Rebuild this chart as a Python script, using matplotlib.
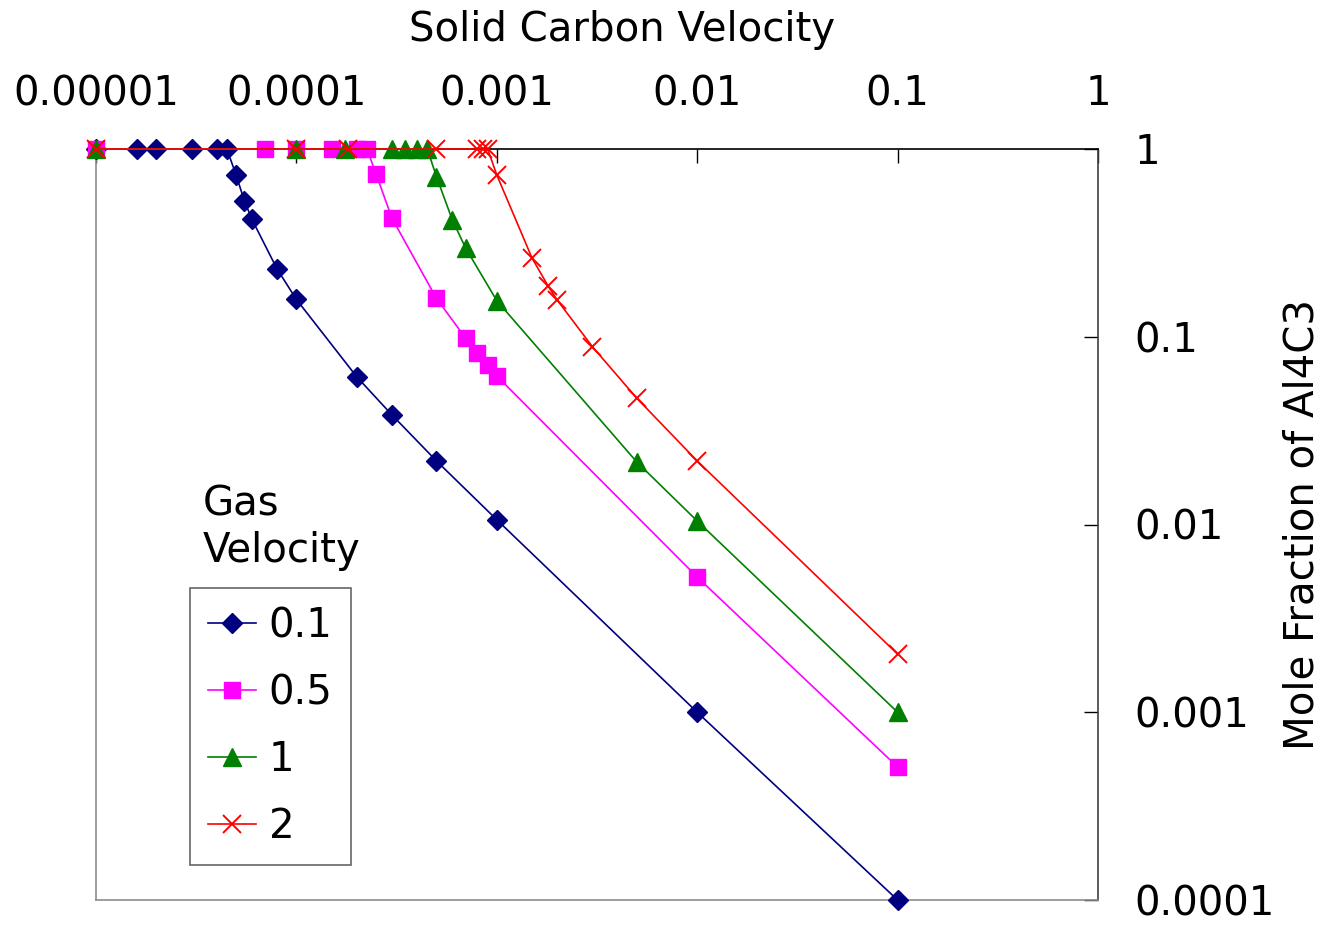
import matplotlib.pyplot as plt
from matplotlib.ticker import FixedLocator, FixedFormatter, NullLocator

# Data (solid carbon velocity vs mole fraction of Al4C3)
x_01 = [1e-5, 1.6e-5, 2e-5, 3e-5, 4e-5, 4.5e-5, 5e-5, 5.5e-5, 6e-5, 8e-5,
        1e-4, 2e-4, 3e-4, 5e-4, 1e-3, 1e-2, 0.1]
y_01 = [1, 1, 1, 1, 1, 1, 0.727, 0.53, 0.422, 0.23,
        0.158, 0.0612, 0.0383, 0.0218, 0.0106, 0.001, 0.0001]

x_05 = [1e-5, 7e-5, 1e-4, 1.5e-4, 2e-4, 2.25e-4, 2.5e-4, 3e-4, 5e-4,
        7e-4, 8e-4, 9e-4, 1e-3, 1e-2, 0.1]
y_05 = [1, 1, 1, 1, 1, 1, 0.733, 0.4275, 0.160,
        0.0981, 0.0822, 0.0707, 0.0618, 0.00525, 0.000511]

x_1 = [1e-5, 1e-4, 1.75e-4, 3e-4, 3.5e-4, 4e-4, 4.5e-4, 5e-4, 6e-4, 7e-4,
       1e-3, 5e-3, 1e-2, 0.1]
y_1 = [1, 1, 1, 1, 1, 1, 1, 0.712, 0.4185, 0.296,
       0.1556, 0.0215, 0.01044, 0.001]

x_2 = [1e-5, 1e-4, 1.8e-4, 5e-4, 8e-4, 8.5e-4, 9e-4, 1e-3, 1.5e-3, 1.8e-3,
       2e-3, 3e-3, 5e-3, 1e-2, 0.1]
y_2 = [1, 1, 1, 1, 1, 1, 1, 0.727, 0.262, 0.187,
       0.157, 0.0885, 0.047, 0.0218, 0.00204]

x_ticks = [1e-5, 1e-4, 1e-3, 1e-2, 1e-1, 1]
x_labels = ['0.00001', '0.0001', '0.001', '0.01', '0.1', '1']
y_ticks = [1e-4, 1e-3, 1e-2, 1e-1, 1]
y_labels = ['0.0001', '0.001', '0.01', '0.1', '1']

plt.rcParams['font.family'] = 'DejaVu Sans'
FS = 29

fig = plt.figure(figsize=(13.27, 9.25), dpi=100)
ax = fig.add_axes([96/1327, 25/925, 1002/1327, 751/925])

ax.plot(x_01, y_01, color='#000080', lw=1.2, marker='D', ms=10,
        label='0.1', clip_on=False, zorder=3)
ax.plot(x_05, y_05, color='#FF00FF', lw=1.2, marker='s', ms=11.5,
        label='0.5', clip_on=False, zorder=4)
ax.plot(x_1, y_1, color='#008000', lw=1.2, marker='^', ms=13,
        label='1', clip_on=False, zorder=5)
ax.plot(x_2, y_2, color='#FF0000', lw=1.2, marker='x', ms=12.5, mew=1.4,
        label='2', clip_on=False, zorder=6)

ax.set_xscale('log')
ax.set_yscale('log')
ax.set_xlim(1e-5, 1)
ax.set_ylim(1e-4, 1)

ax.xaxis.set_major_locator(FixedLocator(x_ticks))
ax.xaxis.set_major_formatter(FixedFormatter(x_labels))
ax.xaxis.set_minor_locator(NullLocator())
ax.yaxis.set_major_locator(FixedLocator(y_ticks))
ax.yaxis.set_major_formatter(FixedFormatter(y_labels))
ax.yaxis.set_minor_locator(NullLocator())

ax.xaxis.tick_top()
ax.yaxis.tick_right()
ax.tick_params(axis='x', direction='in', length=10, width=1, pad=25,
               labelsize=FS, colors='black')
ax.tick_params(axis='y', direction='in', length=10, width=1, pad=26,
               labelsize=FS, colors='black')
for lab in ax.get_yticklabels():
    lab.set_horizontalalignment('left')

ax.spines['top'].set_color('black')
ax.spines['right'].set_color('#404040')
ax.spines['left'].set_color('#8c8c8c')
ax.spines['bottom'].set_color('#8c8c8c')
for s in ax.spines.values():
    s.set_linewidth(1.2)

# Axis titles placed where the reference puts them
ax.xaxis.set_label_position('top')
ax.set_xlabel('Solid Carbon Velocity', fontsize=FS)
ax.xaxis.set_label_coords((622 - 96) / 1002, (895 - 25) / 751)
ax.xaxis.label.set_verticalalignment('center')
ax.yaxis.set_label_position('right')
ax.set_ylabel('Mole Fraction of Al4C3', fontsize=FS)
ax.yaxis.set_label_coords((1303 - 96) / 1002, 0.5)
ax.yaxis.label.set_verticalalignment('center')

leg = ax.legend(loc='upper left', bbox_to_anchor=(190/1327, 1 - 588/925),
                bbox_transform=fig.transFigure, fontsize=FS, frameon=True,
                fancybox=False, edgecolor='#404040', borderaxespad=0,
                handlelength=1.2, handletextpad=0.3, labelspacing=0.67,
                borderpad=0.45)
leg.get_frame().set_linewidth(1.2)

fig.text(203/1327, 1 - 528/925, 'Gas\nVelocity', fontsize=FS,
         ha='left', va='center', linespacing=1.2)

fig.savefig('out.png', dpi=100)
